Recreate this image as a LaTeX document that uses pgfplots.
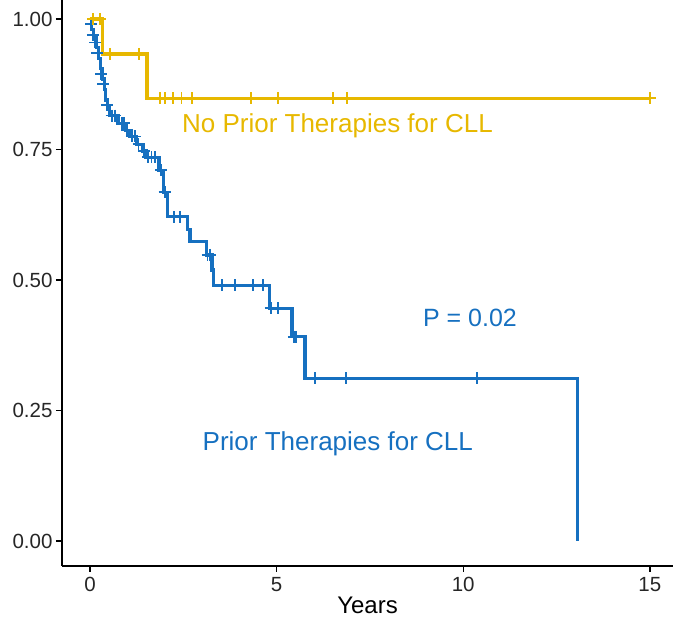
\documentclass[border=0pt]{standalone}
\usepackage{pgfplots}
\pgfplotsset{compat=1.18}
\usepackage{fontspec}
\setmainfont{Liberation Sans}
\definecolor{cyel}{RGB}{231,184,0}
\definecolor{cblu}{RGB}{22,112,192}
\begin{document}
\begin{tikzpicture}
\begin{axis}[
  scale only axis, width=611pt, height=566pt,
  at={(0pt,0pt)}, anchor=south west,
  xmin=-0.75, xmax=15.62, ymin=-0.0479, ymax=1.0364,
  axis x line=bottom, axis y line=left,
  axis line style={-, line width=1.5pt, black},
  xtick={0,5,10,15}, ytick={0,0.25,0.5,0.75,1},
  tick style={line width=1.3pt, black}, tick align=outside, major tick length=6pt,
  yticklabel style={/pgf/number format/.cd, fixed, fixed zerofill, precision=2},
  /pgf/number format/assume math mode=true,
  ticklabel style={font=\fontsize{20.5}{22}\selectfont, text=black!85},
  xticklabel style={yshift=-2pt},
  xlabel={Years}, xlabel style={font=\fontsize{24}{26}\selectfont, text=black, yshift=2pt},
  clip=false,
]
% Prior therapies (blue)
\addplot[const plot, cblu, line width=3.2pt] coordinates {
(0,1.0) (0.05,0.98) (0.10,0.965) (0.17,0.945) (0.23,0.925) (0.28,0.905) (0.33,0.885)
(0.38,0.865) (0.42,0.845) (0.47,0.83) (0.52,0.815) (0.75,0.80) (0.95,0.787) (1.07,0.775)
(1.25,0.76) (1.40,0.747) (1.50,0.735) (1.85,0.71) (1.96,0.668) (2.08,0.621) (2.62,0.596)
(2.68,0.573) (3.13,0.548) (3.27,0.519) (3.30,0.49) (4.82,0.446) (5.41,0.391) (5.76,0.312)
(13.07,0.312) (13.07,0)
};
\addplot[only marks, mark=+, mark size=6pt, cblu, line width=1.8pt] coordinates {
(0.03,0.99) (0.08,0.97) (0.14,0.955) (0.2,0.935) (0.3,0.895) (0.36,0.875) (0.45,0.835)
(0.58,0.815) (0.68,0.815) (0.85,0.80) (0.92,0.80) (1.0,0.787) (1.12,0.775) (1.2,0.775)
(1.3,0.76) (1.45,0.747) (1.55,0.735) (1.65,0.735) (1.75,0.735) (1.9,0.71) (2.0,0.668)
(2.25,0.621) (2.42,0.621) (3.15,0.548) (3.22,0.548) (3.54,0.49) (3.88,0.49) (4.37,0.49)
(4.63,0.49) (4.84,0.446) (5.03,0.446) (5.46,0.391) (5.53,0.391) (6.02,0.312) (6.85,0.312)
(10.37,0.312)
};
% No prior therapies (yellow)
\addplot[const plot, cyel, line width=3.2pt] coordinates {
(0,1.0) (0.34,0.933) (1.53,0.848) (15.0,0.848)
};
\addplot[only marks, mark=+, mark size=6pt, cyel, line width=1.8pt] coordinates {
(0.08,1.0) (0.27,1.0) (0.54,0.933) (1.31,0.933) (1.88,0.848) (2.01,0.848) (2.22,0.848)
(2.45,0.848) (2.73,0.848) (4.31,0.848) (5.04,0.848) (6.51,0.848) (6.88,0.848) (15.0,0.848)
};
\node[text=cyel, font=\fontsize{26}{28}\selectfont] at (axis cs:6.63,0.795) {No Prior Therapies for CLL};
\node[text=cblu, font=\fontsize{25}{28}\selectfont] at (axis cs:10.18,0.427) {P = 0.02};
\node[text=cblu, font=\fontsize{26}{28}\selectfont] at (axis cs:6.64,0.186) {Prior Therapies for CLL};
\end{axis}
\pgfresetboundingbox
\path[use as bounding box] (-62pt,-58pt) rectangle (611pt,566pt);
\end{tikzpicture}
\end{document}
